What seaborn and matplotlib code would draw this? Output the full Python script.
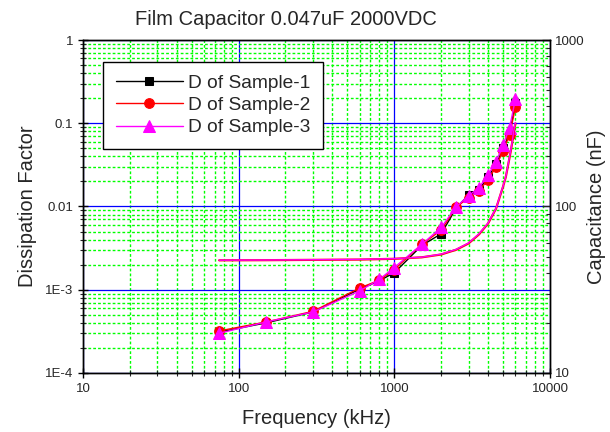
import numpy as np
import pandas as pd
import matplotlib
matplotlib.use('Agg')
import matplotlib.pyplot as plt
import seaborn as sns
from matplotlib.ticker import LogLocator, FixedLocator, FixedFormatter, NullFormatter

# dissipation factor measurements (kHz)
freq_d = [75, 150, 300, 600, 800, 1000, 1500, 2000, 2500, 3000, 3500, 4000, 4500, 5000, 5500, 6000]
d_sample1 = [3.1e-4, 4.0e-4, 5.4e-4, 1.02e-3, 1.28e-3, 1.60e-3, 3.4e-3, 4.7e-3, 9.6e-3,
             0.0138, 0.0160, 0.0225, 0.032, 0.050, 0.075, 0.175]
d_sample2 = [3.2e-4, 4.1e-4, 5.5e-4, 1.05e-3, 1.30e-3, 1.75e-3, 3.5e-3, 5.2e-3, 9.8e-3,
             0.0128, 0.0155, 0.021, 0.030, 0.047, 0.072, 0.155]
d_sample3 = [3.0e-4, 4.1e-4, 5.4e-4, 0.97e-3, 1.33e-3, 1.85e-3, 3.5e-3, 5.6e-3, 9.9e-3,
             0.0135, 0.0168, 0.024, 0.034, 0.055, 0.088, 0.195]

# capacitance sweep (nF)
freq_c = [75, 150, 300, 600, 1000, 1500, 2000, 2500, 3000, 3500, 4000, 4500, 5000,
          5200, 5400, 5600, 5750, 5850, 5950, 6000]
c_sample2 = [47.5, 47.6, 47.8, 48.0, 48.5, 49.5, 51.5, 55.0, 60.0, 68.0, 79.0, 97.0, 132.0,
             150.0, 180.0, 215.0, 250.0, 280.0, 305.0, 315.0]
c_sample3 = [47.6, 47.7, 47.9, 48.1, 48.6, 49.6, 51.7, 55.3, 60.4, 68.5, 79.5, 97.5, 133.0,
             151.0, 182.0, 218.0, 253.0, 284.0, 310.0, 320.0]

left_ticks = [1e-4, 1e-3, 1e-2, 1e-1, 1]
left_labels = ['1E-4', '1E-3', '0.01', '0.1', '1']
right_ticks = [10, 100, 1000]
right_labels = ['10', '100', '1000']
x_ticks = [10, 100, 1000, 10000]
x_labels = ['10', '100', '1000', '10000']

sns.set_style('ticks')
plt.rcParams['font.family'] = ['Liberation Sans', 'DejaVu Sans']
plt.rcParams['axes.grid'] = False

fig = plt.figure(figsize=(6.1, 4.32), dpi=100)
ax = fig.add_axes([0.136, 0.1366, 0.7656, 0.7708])
ax2 = ax.twinx()

ax.set_xscale('log')
ax.set_yscale('log')
ax2.set_yscale('log')
ax.set_xlim(10, 10000)
ax.set_ylim(1e-4, 1)
ax2.set_ylim(10, 1000)

df = pd.DataFrame({'f': freq_d, 'd1': d_sample1, 'd2': d_sample2, 'd3': d_sample3})
sns.lineplot(data=df, x='f', y='d1', ax=ax, color='black', marker='s', markersize=6,
             markeredgecolor='black', linewidth=1, label='D of Sample-1')
sns.lineplot(data=df, x='f', y='d2', ax=ax, color='red', marker='o', markersize=7,
             markeredgecolor='red', linewidth=1, label='D of Sample-2')
sns.lineplot(data=df, x='f', y='d3', ax=ax, color='#ff00ff', marker='^', markersize=8,
             markeredgecolor='#ff00ff', linewidth=1, label='D of Sample-3')

dc = pd.DataFrame({'f': freq_c, 'c2': c_sample2, 'c3': c_sample3})
sns.lineplot(data=dc, x='f', y='c2', ax=ax2, color='red', linewidth=1.6)
sns.lineplot(data=dc, x='f', y='c3', ax=ax2, color='#ff00ff', linewidth=1.0)

ax.xaxis.set_major_locator(FixedLocator(x_ticks))
ax.xaxis.set_major_formatter(FixedFormatter(x_labels))
ax.xaxis.set_minor_locator(LogLocator(base=10, subs=np.arange(2, 10)))
ax.xaxis.set_minor_formatter(NullFormatter())
ax.yaxis.set_major_locator(FixedLocator(left_ticks))
ax.yaxis.set_major_formatter(FixedFormatter(left_labels))
ax.yaxis.set_minor_locator(LogLocator(base=10, subs=np.arange(2, 10)))
ax.yaxis.set_minor_formatter(NullFormatter())
ax2.yaxis.set_major_locator(FixedLocator(right_ticks))
ax2.yaxis.set_major_formatter(FixedFormatter(right_labels))
ax2.yaxis.set_minor_locator(LogLocator(base=10, subs=np.arange(2, 10)))
ax2.yaxis.set_minor_formatter(NullFormatter())

ax.tick_params(axis='both', which='major', direction='inout', length=7, width=1,
               labelsize=9.5, color='black', top=False)
ax.tick_params(axis='both', which='minor', direction='inout', length=4, width=0.8, top=False)
ax.tick_params(axis='y', which='both', right=False)
ax2.tick_params(axis='y', which='major', direction='in', length=6, width=1, labelsize=9.5)
ax2.tick_params(axis='y', which='minor', direction='in', length=3, width=0.8)

# grid (after locators)
ax2.grid(False, which='both')
ax.grid(True, which='minor', color='#00ff00', linestyle=(0, (2, 1.5)), linewidth=1.0)
ax.grid(True, which='major', color='#0000ff', linestyle='-', linewidth=0.9)
ax.set_axisbelow(True)

for a in (ax, ax2):
    for s in a.spines.values():
        s.set_color('black')
        s.set_linewidth(1)

ax.set_xlabel('Frequency (kHz)', fontsize=14.5, labelpad=10)
ax.set_ylabel('Dissipation Factor', fontsize=14.5, labelpad=6)
ax2.set_ylabel('Capacitance (nF)', fontsize=14.5, labelpad=2)
fig.text(0.469, 0.942, 'Film Capacitor 0.047uF 2000VDC', fontsize=14.5,
         ha='center', va='baseline')

leg = ax.legend(loc='upper left', bbox_to_anchor=(0.043, 0.934), borderaxespad=0,
                fontsize=13.8, handlelength=3.5, frameon=True, fancybox=False,
                edgecolor='black', framealpha=1, borderpad=0.65, labelspacing=0.25,
                handletextpad=0.3)
leg.get_frame().set_linewidth(1)
if ax2.get_legend() is not None:
    ax2.get_legend().remove()

fig.savefig('out.png', dpi=100)
